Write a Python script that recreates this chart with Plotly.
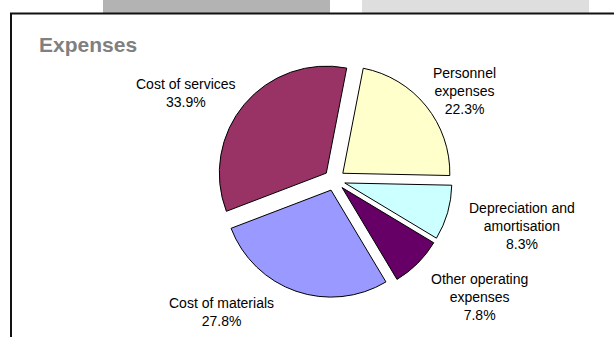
import plotly.graph_objects as go

# ---- data ----
labels = ["Personnel expenses", "Depreciation and amortisation", "Other operating expenses",
          "Cost of materials", "Cost of services"]
label_lines = [["Personnel", "expenses"], ["Depreciation and", "amortisation"],
               ["Other operating", "expenses"], ["Cost of materials"], ["Cost of services"]]
shares = [22.3, 8.3, 7.8, 27.8, 33.9]
colors = ["#FFFFCC", "#CCFFFF", "#660066", "#9999FF", "#993366"]
title_text = "Expenses"

# ---- layout helpers ----
W, H = 614, 337
def px(x):
    return x / W
def py(y):
    return 1 - y / H

# label block centers (pixels, top-down)
label_pos = [(464, 91), (522, 226), (479, 297), (221.5, 312), (186, 93.5)]

fig = go.Figure(go.Pie(
    labels=labels,
    values=shares,
    sort=False,
    direction="clockwise",
    rotation=11,
    pull=[0.1] * len(shares),
    marker=dict(colors=colors, line=dict(color="#000000", width=1)),
    textinfo="none",
    hoverinfo="skip",
    showlegend=False,
    domain=dict(x=[px(216.8), px(452.2)], y=[py(297.7), py(62.3)]),
))

annotations = []
for lines, v, (x, y) in zip(label_lines, shares, label_pos):
    annotations.append(dict(
        x=px(x), y=py(y), xref="paper", yref="paper",
        text="<br>".join(lines + [f"{v:.1f}%"]),
        showarrow=False, xanchor="center", yanchor="middle", align="center",
        font=dict(family="Arial, Liberation Sans, sans-serif", size=14, color="#000000"),
    ))

annotations.append(dict(
    x=px(37), y=py(44.5), xref="paper", yref="paper",
    text=f"<b>{title_text}</b>", showarrow=False, xanchor="left", yanchor="middle",
    font=dict(family="Arial, Liberation Sans, sans-serif", size=21, color="#808080"),
))

shapes = [
    dict(type="rect", xref="paper", yref="paper", x0=px(103), x1=px(330), y0=py(13), y1=py(0),
         fillcolor="#B3B3B3", line=dict(width=0), layer="below"),
    dict(type="rect", xref="paper", yref="paper", x0=px(362), x1=px(589), y0=py(13), y1=py(0),
         fillcolor="#DEDEDE", line=dict(width=0), layer="below"),
    dict(type="path", xref="paper", yref="paper",
         path=f"M {px(11)} {py(340)} L {px(11)} {py(13.5)} L {px(620)} {py(13.5)}",
         line=dict(color="#111111", width=2)),
]

fig.update_layout(
    width=W, height=H,
    margin=dict(l=0, r=0, t=0, b=0),
    paper_bgcolor="#FFFFFF", plot_bgcolor="#FFFFFF",
    annotations=annotations, shapes=shapes,
)

fig.write_html("out.html")
